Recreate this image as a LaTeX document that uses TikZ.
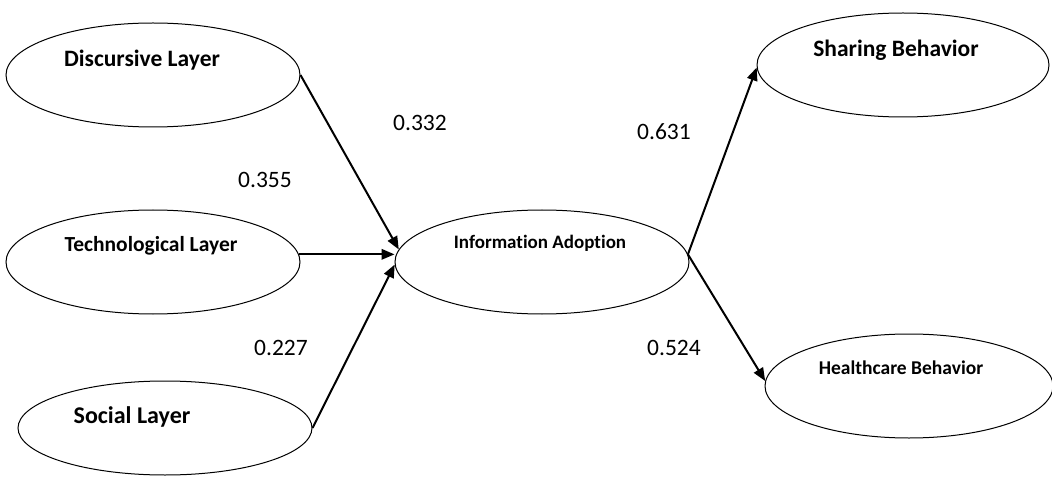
\documentclass[tikz,border=0pt]{standalone}
\usepackage{fontspec}
\setmainfont[Ligatures=NoCommon]{Carlito}
\usetikzlibrary{shapes.geometric,arrows.meta}

\tikzset{
  construct/.style={ellipse, draw=black, line width=1pt, inner sep=0pt,
    minimum width=294pt, minimum height=104pt},
  cname/.style={font=\bfseries, inner sep=0pt, anchor=center},
  coef/.style={font=\fontsize{23.5}{26}\selectfont, inner sep=0pt},
  path/.style={line width=2pt, -{Triangle[length=13pt,width=10.5pt]}}
}

\begin{document}
\begin{tikzpicture}[x=1pt,y=-1pt]
  \useasboundingbox (0,0) rectangle (1052,481);

  % latent constructs
  \node[construct] (dl) at (153,75) {};
  \node[construct] (tl) at (153,262) {};
  \node[construct, minimum height=94pt] (sl) at (165,428) {};
  \node[construct] (ia) at (542,262) {};
  \node[construct, minimum width=292pt] (sb) at (903,65) {};
  \node[construct, minimum width=288pt] (hb) at (909,386) {};

  % construct names
  \node[cname, font=\bfseries\fontsize{23.5}{26}\selectfont] (dlt) at (142,60) {Discursive Layer};
  \node[cname, font=\bfseries\fontsize{21.5}{24}\selectfont] (tlt) at (151,246) {Technological Layer};
  \node[cname, font=\bfseries\fontsize{24}{26}\selectfont] (slt) at (132,417) {Social Layer};
  \node[cname, font=\bfseries\fontsize{19}{22}\selectfont] (iat) at (540,243) {Information Adoption};
  \node[cname, font=\bfseries\fontsize{23.5}{26}\selectfont] (sbt) at (896,50) {Sharing Behavior};
  \node[cname, font=\bfseries\fontsize{19.5}{22}\selectfont] (hbt) at (901,368) {Healthcare Behavior};

  % structural paths
  \draw[path] (dl.east) -- (ia.175);
  \draw[path] (tl.3) -- (tl.3 -| ia.west);
  \draw[path] (sl.east) -- (ia.181);
  \draw[path] (ia.3) -- (sb.181);
  \draw[path] (ia.3) -- (hb.178);

  % path coefficients
  \node[coef] (c1) at (420,123) {0.332};
  \node[coef] (c2) at (265,180) {0.355};
  \node[coef] (c3) at (281,348) {0.227};
  \node[coef] (c4) at (664,132) {0.631};
  \node[coef] (c5) at (674,348) {0.524};
\end{tikzpicture}
\end{document}
